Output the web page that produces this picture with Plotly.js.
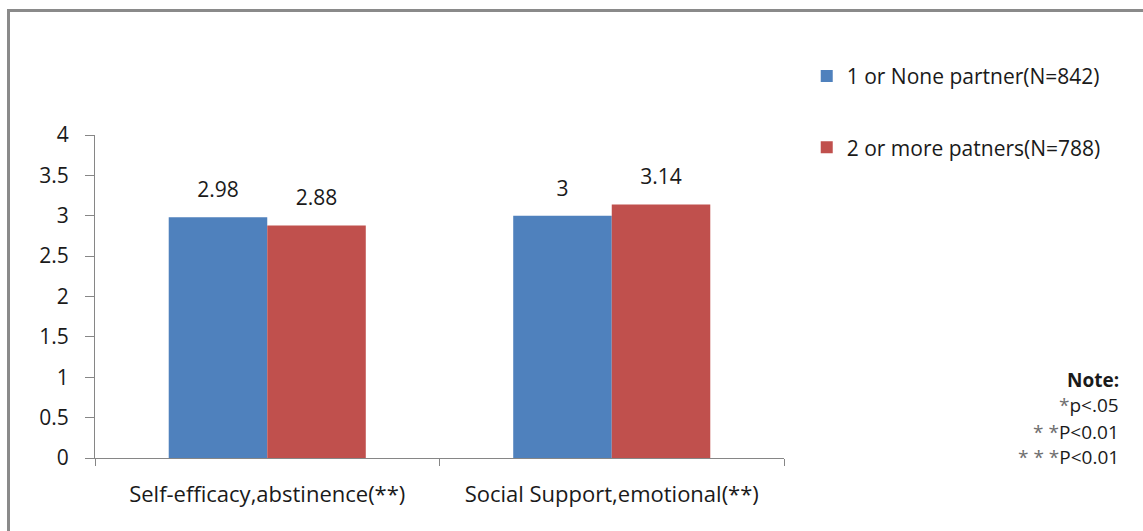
<!DOCTYPE html>
<html>
<head>
<meta charset="utf-8">
<script src="https://cdn.plot.ly/plotly-3.0.1.min.js"></script>
<style>
  html, body { margin: 0; padding: 0; background: #fff; overflow: hidden; }
  #wrap { position: relative; width: 1143px; height: 531px; }
  #chart { position: absolute; left: 0; top: 0; width: 1143px; height: 531px; }
  #frame { position: absolute; left: 7px; top: 9px; width: 1300px; height: 700px;
           border: 3px solid #8a8a8a; pointer-events: none; box-sizing: border-box; }
</style>
</head>
<body>
<div id="wrap">
  <div id="chart"></div>
  <div id="frame"></div>
</div>
<script>
// Scale means by number of sexual partners
const categories = ['Self-efficacy,abstinence(**)', 'Social Support,emotional(**)'];
const seriesNames = ['1 or None partner(N=842)', '2 or more patners(N=788)'];
const onePartner = [2.98, 3];
const twoPlusPartners = [2.88, 3.14];
const yTicks = [0, 0.5, 1, 1.5, 2, 2.5, 3, 3.5, 4];
const noteLines = [
  '<b>Note:</b>',
  '<span style="color:#6e6e6e">*</span>p<.05',
  '<span style="color:#6e6e6e">* *</span>P<0.01',
  '<span style="color:#6e6e6e">* * *</span>P<0.01'
];

const FONT = 'Open Sans, sans-serif';
const TEXT = '#1a1a1a';
const AXIS = '#868686';
const colors = ['#4F81BD', '#C0504D'];
const seriesValues = [onePartner, twoPlusPartners];

const traces = [];
seriesValues.forEach((vals, i) => {
  traces.push({
    type: 'bar',
    name: seriesNames[i],
    x: categories,
    y: vals,
    marker: { color: colors[i], line: { width: 0 } },
    offsetgroup: 'g' + i,
    legendgroup: 'g' + i,
    hoverinfo: 'skip'
  });
});
// Value labels above each bar, grouped the same way as the bars
seriesValues.forEach((vals, i) => {
  traces.push({
    type: 'scatter',
    mode: 'markers+text',
    x: categories,
    y: vals,
    text: vals.map(v => String(v)),
    textposition: 'top center',
    textfont: { family: FONT, size: 21, color: TEXT },
    marker: { size: 22, opacity: 0 },
    offsetgroup: 'g' + i,
    showlegend: false,
    hoverinfo: 'skip',
    cliponaxis: false
  });
});

const noteY = [380, 405, 432, 457];
const annotations = noteLines.map((t, i) => ({
  xref: 'paper', yref: 'paper',
  x: 1.489, xanchor: 'right',
  y: (458 - noteY[i]) / 323,
  yanchor: 'middle',
  text: t,
  showarrow: false,
  font: { family: FONT, size: 19, color: TEXT }
}));

const layout = {
  width: 1143,
  height: 531,
  margin: { l: 95, r: 359, t: 135, b: 73 },
  paper_bgcolor: '#fff',
  plot_bgcolor: '#fff',
  font: { family: FONT, color: TEXT },
  barmode: 'group',
  bargap: 0.428,
  bargroupgap: 0,
  scattermode: 'group',
  scattergap: 0.428,
  showlegend: true,
  legend: {
    x: 1.033, xanchor: 'left',
    y: 1.245, yanchor: 'top',
    font: { family: FONT, size: 21, color: TEXT },
    tracegroupgap: 41,
    bgcolor: 'rgba(0,0,0,0)'
  },
  xaxis: {
    type: 'category',
    showgrid: false,
    zeroline: false,
    showline: true,
    linecolor: AXIS,
    linewidth: 1,
    ticks: 'outside',
    tickson: 'boundaries',
    ticklen: 7,
    tickcolor: AXIS,
    ticklabelstandoff: 17,
    tickfont: { family: FONT, size: 22, color: TEXT },
    fixedrange: true
  },
  yaxis: {
    range: [0, 4],
    tickvals: yTicks,
    ticktext: yTicks.map(String),
    showgrid: false,
    zeroline: false,
    showline: true,
    linecolor: AXIS,
    linewidth: 1,
    ticks: 'outside',
    ticklen: 9,
    tickcolor: AXIS,
    ticklabelstandoff: 12,
    tickfont: { family: FONT, size: 21, color: TEXT },
    fixedrange: true
  },
  annotations: annotations
};

Plotly.newPlot('chart', traces, layout, { displayModeBar: false, staticPlot: true });
</script>
</body>
</html>
